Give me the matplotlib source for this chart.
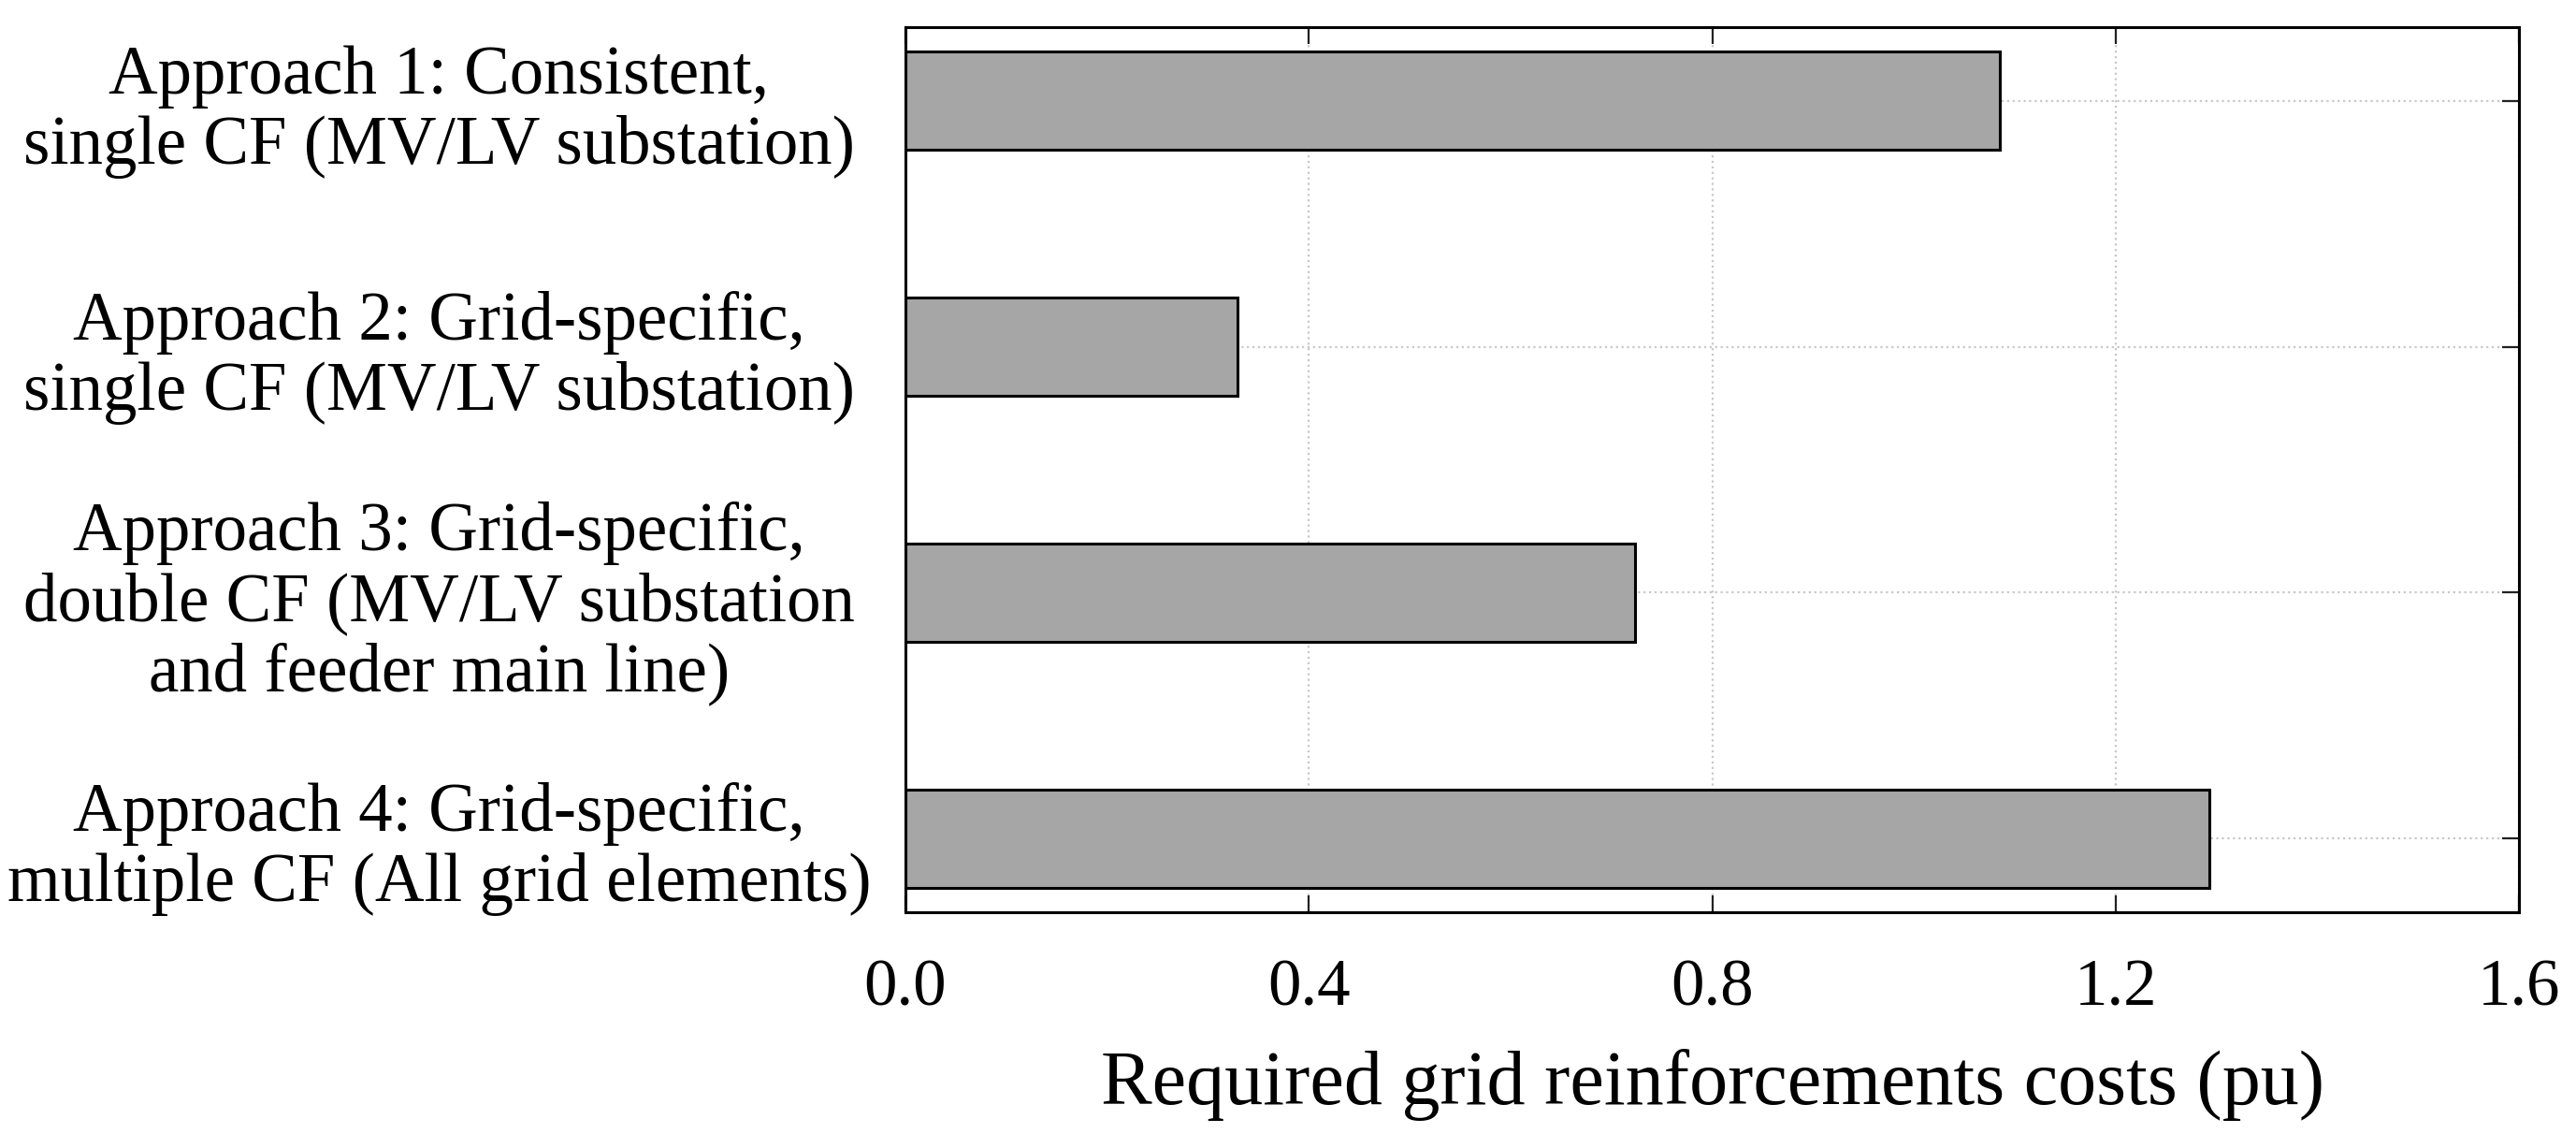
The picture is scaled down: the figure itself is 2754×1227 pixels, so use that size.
import matplotlib
matplotlib.use("Agg")
import matplotlib.pyplot as plt

###################### 
### Data
######################
labels = [
    "Approach 1: Consistent,\nsingle CF (MV/LV substation)",
    "Approach 2: Grid-specific,\nsingle CF (MV/LV substation)",
    "Approach 3: Grid-specific,\ndouble CF (MV/LV substation\nand feeder main line)",
    "Approach 4: Grid-specific,\nmultiple CF (All grid elements)",
]
costs = [1.085, 0.329, 0.723, 1.293]
xticks = [0.0, 0.4, 0.8, 1.2, 1.6]
xlabel = "Required grid reinforcements costs (pu)"

###################### 
### Draw
######################
plt.rcParams['font.family'] = ['Liberation Serif', 'DejaVu Serif']
FS = 52.5

fig = plt.figure(figsize=(27.54, 12.27), dpi=100)
ax = fig.add_axes([0.3515, 0.2054, 0.6264, 0.771])

ypos = list(range(len(labels)))
ax.barh(ypos, costs, height=0.4, color='#a6a6a6', edgecolor='black',
        linewidth=2.2, zorder=3)

ax.set_ylim(3.3, -0.3)
ax.set_xlim(0, 1.6)
ax.set_yticks(ypos)
ax.set_yticklabels(labels, fontsize=FS, linespacing=1.14, ha='center')
ax.set_xticks(xticks)
ax.set_xticklabels([f"{v:.1f}" for v in xticks], fontsize=51)
ax.set_xlabel(xlabel, fontsize=59, labelpad=22)

ax.grid(True, color='#c8c8c8', linestyle=':', linewidth=1.6, zorder=0)
ax.tick_params(direction='in', length=13, width=1.6, top=True, right=True,
               colors='#222222', labelcolor='black')
ax.tick_params(axis='x', pad=36)
ax.tick_params(axis='y', pad=359)
for s in ax.spines.values():
    s.set_linewidth(2.2)
    s.set_zorder(4)

fig.savefig("out.png", dpi=100)
